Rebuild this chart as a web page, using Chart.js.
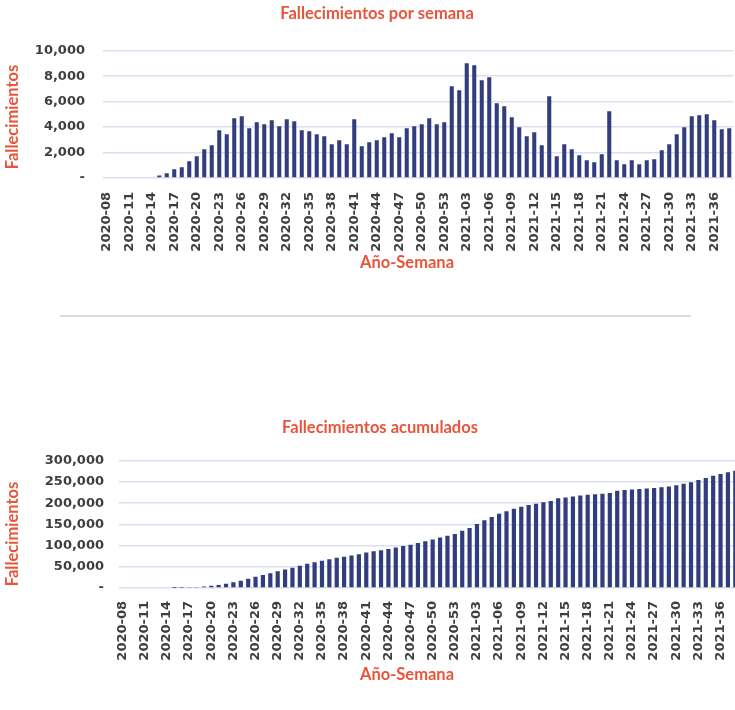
<!DOCTYPE html>
<html>
<head>
<meta charset="utf-8">
<script src="https://cdn.jsdelivr.net/npm/chart.js@4.4.1/dist/chart.umd.min.js"></script>
<style>
  html, body { margin: 0; padding: 0; background: #fff; overflow: hidden; width: 735px; height: 710px; }
  canvas { position: absolute; left: 0; }
  #weekly { top: 0; }
  #cumulative { top: 400px; }
  .sep { position: absolute; left: 60px; top: 315px; width: 631px; border-top: 2px solid #dcdcdc; }
</style>
</head>
<body>
<canvas id="weekly" width="735" height="290"></canvas>
<div class="sep"></div>
<canvas id="cumulative" width="745" height="300"></canvas>
<script>
'use strict';

const weeks = [
  '2020-08','2020-09','2020-10','2020-11','2020-12','2020-13','2020-14','2020-15','2020-16','2020-17',
  '2020-18','2020-19','2020-20','2020-21','2020-22','2020-23','2020-24','2020-25','2020-26','2020-27',
  '2020-28','2020-29','2020-30','2020-31','2020-32','2020-33','2020-34','2020-35','2020-36','2020-37',
  '2020-38','2020-39','2020-40','2020-41','2020-42','2020-43','2020-44','2020-45','2020-46','2020-47',
  '2020-48','2020-49','2020-50','2020-51','2020-52','2020-53',
  '2021-01','2021-02','2021-03','2021-04','2021-05','2021-06','2021-07','2021-08','2021-09','2021-10',
  '2021-11','2021-12','2021-13','2021-14','2021-15','2021-16','2021-17','2021-18','2021-19','2021-20',
  '2021-21','2021-22','2021-23','2021-24','2021-25','2021-26','2021-27','2021-28','2021-29','2021-30',
  '2021-31','2021-32','2021-33','2021-34','2021-35','2021-36','2021-37','2021-38'
];

// fallecimientos por semana
const weekly = [
  0, 0, 0, 0, 0, 0, 0, 200, 370, 680,
  840, 1310, 1710, 2260, 2570, 3750, 3440, 4700, 4860, 3910,
  4380, 4230, 4540, 4070, 4620, 4460, 3750, 3680, 3440, 3280,
  2650, 2970, 2650, 4620, 2490, 2810, 2970, 3200, 3520, 3200,
  3910, 4070, 4230, 4700, 4230, 4380,
  7220, 6900, 9030, 8870, 7690, 7930, 5880, 5640, 4780, 3990,
  3280, 3600, 2570, 6430, 1710, 2650, 2260, 1790, 1390, 1230,
  1860, 5250, 1390, 1080, 1390, 1080, 1390, 1470, 2180, 2650,
  3440, 3990, 4860, 4930, 5010, 4540, 3830, 3910
];

// fallecimientos acumulados
const cumulative = [
  0, 0, 0, 0, 0, 0, 0, 200, 570, 1250,
  2090, 3400, 5110, 7370, 9940, 13690, 17130, 21830, 26690, 30600,
  34980, 39210, 43750, 47820, 52440, 56900, 60650, 64330, 67770, 71050,
  73700, 76670, 79320, 83940, 86430, 89240, 92210, 95410, 98930, 102130,
  106040, 110110, 114340, 119040, 123270, 127650,
  134870, 141770, 150800, 159670, 167360, 175290, 181170, 186810, 191590, 195580,
  198860, 202460, 205030, 211460, 213170, 215820, 218080, 219870, 221260, 222490,
  224350, 229600, 230990, 232070, 233460, 234540, 235930, 237400, 239580, 242230,
  245670, 249660, 254520, 259450, 264460, 269000, 272830, 276740
];

const weeklyTicks = [0, 2000, 4000, 6000, 8000, 10000];
const cumulativeTicks = [0, 50000, 100000, 150000, 200000, 250000, 300000];

const orange = '#E9553B';
const navy = '#323D7D';
const tickColor = '#3E3E3E';
const gridColor = '#DCDDEE';
const tickFont = { family: 'DejaVu Sans', size: 13, weight: 'bold' };
const titleFont = { family: 'Lato', size: 16.5, weight: 'bold', lineHeight: 1.2 };

const axisTitles = {
  id: 'axisTitles',
  afterDraw(chart, args, opts) {
    const ctx = chart.ctx;
    ctx.save();
    ctx.fillStyle = orange;
    ctx.font = 'bold 16.5px Lato';
    ctx.textAlign = 'center';
    ctx.textBaseline = 'middle';
    ctx.save();
    ctx.translate(opts.yX, opts.yY);
    ctx.rotate(-Math.PI / 2);
    ctx.fillText(opts.yText, 0, 0);
    ctx.restore();
    ctx.fillText(opts.xText, opts.xX, opts.xY);
    ctx.restore();
  }
};

function fmt(v) {
  return v === 0 ? '-' : v.toLocaleString('en-US');
}

function makeChart(id, cfg) {
  const ctx = document.getElementById(id).getContext('2d');
  return new Chart(ctx, {
    type: 'bar',
    data: {
      labels: weeks,
      datasets: [{
        data: cfg.values,
        backgroundColor: navy,
        borderWidth: 0,
        barPercentage: cfg.barPct,
        categoryPercentage: 1
      }]
    },
    plugins: [axisTitles],
    options: {
      responsive: false,
      animation: false,
      layout: { padding: { left: 21, right: cfg.padRight, top: 0, bottom: 0 } },
      plugins: {
        legend: { display: false },
        tooltip: { enabled: false },
        title: {
          display: true,
          text: cfg.title,
          color: orange,
          font: titleFont,
          padding: cfg.titlePad
        },
        axisTitles: cfg.axis
      },
      scales: {
        x: {
          grid: { display: false },
          border: { display: false },
          ticks: {
            autoSkip: false,
            maxRotation: 90,
            minRotation: 90,
            padding: cfg.xPad,
            color: tickColor,
            font: tickFont,
            callback: (v, i) => (i % 3 === 0 ? weeks[i] : '')
          },
          afterFit: (s) => {
            s.height = 112;
            s.paddingLeft = 0;
            s.paddingRight = 0;
          }
        },
        y: {
          min: 0,
          max: cfg.ticks[cfg.ticks.length - 1],
          afterBuildTicks: (s) => { s.ticks = cfg.ticks.map(v => ({ value: v })); },
          grid: { color: gridColor, lineWidth: 1.5, drawTicks: false },
          border: { display: false },
          ticks: {
            padding: cfg.yPad,
            color: tickColor,
            font: tickFont,
            callback: (v) => fmt(v)
          },
          afterFit: (s) => { s.width = cfg.yWidth; }
        }
      }
    }
  });
}

makeChart('weekly', {
  values: weekly,
  ticks: weeklyTicks,
  title: 'Fallecimientos por semana',
  titlePad: { top: 4, bottom: 27 },
  barPct: 0.54,
  padRight: 2,
  yWidth: 82,
  yPad: 18,
  xPad: 6,
  axis: { yText: 'Fallecimientos', yX: 13, yY: 117, xText: 'Año-Semana', xX: 407, xY: 263 }
});

makeChart('cumulative', {
  values: cumulative,
  ticks: cumulativeTicks,
  title: 'Fallecimientos acumulados',
  titlePad: { top: 18, bottom: 23 },
  barPct: 0.57,
  padRight: 6,
  yWidth: 98,
  yPad: 15,
  xPad: 5,
  axis: { yText: 'Fallecimientos', yX: 13, yY: 134, xText: 'Año-Semana', xX: 407, xY: 275 }
});
</script>
</body>
</html>
